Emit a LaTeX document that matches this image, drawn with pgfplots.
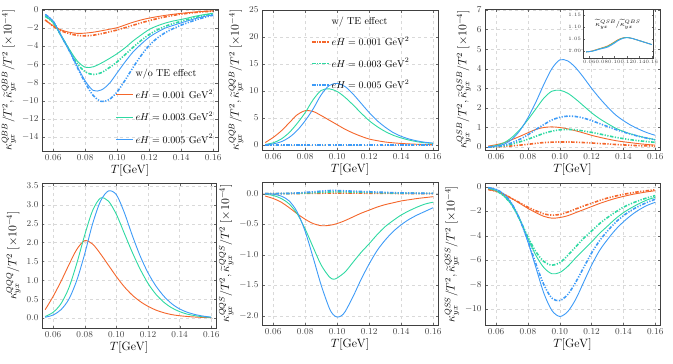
\documentclass[border=0pt]{standalone}
\usepackage{pgfplots}
\pgfplotsset{compat=1.18}
\definecolor{cO}{HTML}{F4662B}
\definecolor{cG}{HTML}{2ED9A2}
\definecolor{cB}{HTML}{3E9BF7}
\pgfplotsset{
 panel/.style={scale only axis, width=176pt, height=142pt,
  axis line style={draw=black!75, line width=0.6pt},
  grid=major, major grid style={dashed, black!15},
  xmin=0.053, xmax=0.163, xtick={0.06,0.08,0.10,0.12,0.14,0.16},
  tick label style={font=\fontsize{9.5}{10}\selectfont, text=black!75},
  label style={font=\fontsize{11.5}{12}\selectfont},
  xlabel={$T[\mathrm{GeV}]$},
  xlabel style={yshift=3pt},
  ylabel style={yshift=-1pt},
  tick align=inside, major tick length=2.5pt, tick style={black!60},
  xticklabel style={/pgf/number format/fixed, /pgf/number format/fixed zerofill, /pgf/number format/precision=2},
  legend cell align=left,
 },
 sol/.style={line width=0.9pt, smooth},
 dd/.style={line width=1.6pt, smooth, dash pattern=on 3.5pt off 1.5pt on 1.2pt off 1.5pt on 1.2pt off 1.5pt},
}
\begin{document}
\begin{tikzpicture}
\useasboundingbox (0,0) rectangle (673pt,-364pt);
% ---------------- Panel 1: QBB
\begin{axis}[panel, at={(42pt,-9pt)}, anchor=north west,
  ymin=-15.5, ymax=0.1, ytick={0,-2,-4,-6,-8,-10,-12,-14},
  ylabel={$\kappa^{QBB}_{yx}/T^2,\widetilde{\kappa}^{QBB}_{yx}/T^2\;[\times 10^{-4}]$},
  legend style={at={(0.40,0.61)}, anchor=north west, draw=none, fill=none, font=\fontsize{10}{11}\selectfont, row sep=8pt}]
\addplot[dd, cO, forget plot] coordinates {(0.055,-1.1)(0.06,-1.8)(0.065,-2.3)(0.07,-2.6)(0.075,-2.8)(0.08,-2.85)(0.085,-2.78)(0.09,-2.62)(0.095,-2.42)(0.10,-2.2)(0.105,-1.95)(0.11,-1.68)(0.115,-1.42)(0.12,-1.18)(0.125,-0.96)(0.13,-0.77)(0.135,-0.6)(0.14,-0.46)(0.145,-0.35)(0.15,-0.26)(0.155,-0.19)(0.16,-0.13)};
\addplot[dd, cG, forget plot] coordinates {(0.055,-0.7)(0.06,-1.4)(0.065,-2.85)(0.07,-4.4)(0.075,-5.9)(0.08,-6.8)(0.085,-7.1)(0.09,-6.9)(0.095,-6.35)(0.10,-5.7)(0.105,-4.9)(0.11,-4.1)(0.115,-3.35)(0.12,-2.7)(0.125,-2.2)(0.13,-1.8)(0.135,-1.5)(0.14,-1.25)(0.145,-1.0)(0.15,-0.78)(0.155,-0.58)(0.16,-0.42)};
\addplot[dd, cB, forget plot] coordinates {(0.055,-0.5)(0.06,-1.25)(0.065,-2.85)(0.07,-4.45)(0.075,-6.3)(0.08,-8.0)(0.085,-9.4)(0.09,-10.05)(0.095,-9.85)(0.10,-9.0)(0.105,-7.7)(0.11,-6.3)(0.115,-5.0)(0.12,-3.9)(0.125,-3.1)(0.13,-2.5)(0.135,-2.05)(0.14,-1.67)(0.145,-1.35)(0.15,-1.05)(0.155,-0.8)(0.16,-0.58)};
\addlegendimage{empty legend}
\addlegendentry{w/o TE effect}
\addplot[sol, cO] coordinates {(0.055,-1.1)(0.06,-1.75)(0.065,-2.2)(0.07,-2.45)(0.075,-2.58)(0.08,-2.55)(0.085,-2.45)(0.09,-2.3)(0.095,-2.13)(0.10,-1.95)(0.105,-1.65)(0.11,-1.35)(0.115,-1.1)(0.12,-0.9)(0.125,-0.74)(0.13,-0.6)(0.135,-0.48)(0.14,-0.38)(0.145,-0.29)(0.15,-0.21)(0.155,-0.15)(0.16,-0.1)};
\addlegendentry{$eH=0.001~\mathrm{GeV}^2$}
\addplot[sol, cG] coordinates {(0.055,-0.7)(0.06,-1.4)(0.065,-2.85)(0.07,-4.3)(0.075,-5.6)(0.08,-6.3)(0.085,-6.25)(0.09,-5.85)(0.095,-5.35)(0.10,-4.8)(0.105,-4.15)(0.11,-3.4)(0.115,-2.75)(0.12,-2.15)(0.125,-1.75)(0.13,-1.45)(0.135,-1.22)(0.14,-1.05)(0.145,-0.85)(0.15,-0.65)(0.155,-0.5)(0.16,-0.36)};
\addlegendentry{$eH=0.003~\mathrm{GeV}^2$}
\addplot[sol, cB] coordinates {(0.055,-0.5)(0.06,-1.25)(0.065,-2.85)(0.07,-4.45)(0.075,-6.2)(0.08,-7.8)(0.085,-8.85)(0.09,-8.8)(0.095,-8.1)(0.10,-6.9)(0.105,-5.7)(0.11,-4.6)(0.115,-3.75)(0.12,-3.0)(0.125,-2.45)(0.13,-2.0)(0.135,-1.7)(0.14,-1.42)(0.145,-1.15)(0.15,-0.9)(0.155,-0.7)(0.16,-0.53)};
\addlegendentry{$eH=0.005~\mathrm{GeV}^2$}
\end{axis}
% ---------------- Panel 2: QQB
\begin{axis}[panel, at={(262pt,-10pt)}, anchor=north west, height=140pt,
  ymin=-0.93, ymax=25, ytick={0,5,10,15,20,25},
  ylabel={$\kappa^{QQB}_{yx}/T^2,\widetilde{\kappa}^{QQB}_{yx}/T^2\;[\times 10^{-4}]$},
  legend style={at={(0.26,0.98)}, anchor=north west, draw=none, fill=none, font=\fontsize{10}{11}\selectfont, row sep=7pt}]
\addplot[sol, cO, forget plot] coordinates {(0.055,0.45)(0.06,1.4)(0.065,2.6)(0.07,4.1)(0.075,5.6)(0.08,6.35)(0.085,6.2)(0.09,5.45)(0.095,4.6)(0.10,3.75)(0.105,2.9)(0.11,2.2)(0.115,1.6)(0.12,1.1)(0.125,0.8)(0.13,0.55)(0.135,0.4)(0.14,0.28)(0.145,0.2)(0.15,0.13)(0.155,0.09)(0.16,0.06)};
\addplot[sol, cG, forget plot] coordinates {(0.055,0.1)(0.06,0.4)(0.065,1.1)(0.07,2.3)(0.075,4.0)(0.08,6.0)(0.085,8.4)(0.09,10.1)(0.095,10.4)(0.10,9.9)(0.105,8.8)(0.11,7.4)(0.115,5.9)(0.12,4.5)(0.125,3.4)(0.13,2.5)(0.135,1.8)(0.14,1.3)(0.145,0.9)(0.15,0.6)(0.155,0.4)(0.16,0.3)};
\addplot[sol, cB, forget plot] coordinates {(0.055,0.05)(0.06,0.2)(0.065,0.6)(0.07,1.4)(0.075,2.7)(0.08,4.5)(0.085,6.7)(0.09,9.3)(0.095,11.0)(0.10,11.4)(0.105,10.8)(0.11,9.4)(0.115,7.7)(0.12,6.0)(0.125,4.5)(0.13,3.3)(0.135,2.3)(0.14,1.6)(0.145,1.1)(0.15,0.75)(0.155,0.5)(0.16,0.35)};
\addlegendimage{empty legend}
\addlegendentry{w/ TE effect}
\addplot[dd, cO] coordinates {(0.055,0)(0.07,0)(0.08,0)(0.09,0)(0.10,0)(0.11,0)(0.12,0)(0.13,0)(0.14,0)(0.15,0)(0.16,0)};
\addlegendentry{$eH=0.001~\mathrm{GeV}^2$}
\addplot[dd, cG] coordinates {(0.055,0)(0.07,0)(0.08,0)(0.09,0)(0.10,0)(0.11,0)(0.12,0)(0.13,0)(0.14,0)(0.15,0)(0.16,0)};
\addlegendentry{$eH=0.003~\mathrm{GeV}^2$}
\addplot[dd, cB] coordinates {(0.055,0)(0.07,0)(0.08,0)(0.09,0)(0.10,0)(0.11,0)(0.12,0)(0.13,0)(0.14,0)(0.15,0)(0.16,0)};
\addlegendentry{$eH=0.005~\mathrm{GeV}^2$}
\end{axis}
% ---------------- Panel 3: QSB
\begin{axis}[panel, at={(485pt,-9pt)}, anchor=north west, width=175pt, height=141pt,
  ymin=-0.15, ymax=7.05, ytick={0,1,2,3,4,5,6,7},
  ylabel={$\kappa^{QSB}_{yx}/T^2,\widetilde{\kappa}^{QSB}_{yx}/T^2\;[\times 10^{-4}]$}]
\addplot[sol, cO] coordinates {(0.055,0.05)(0.06,0.12)(0.065,0.22)(0.07,0.38)(0.075,0.55)(0.08,0.73)(0.085,0.9)(0.09,1.0)(0.095,1.03)(0.10,1.0)(0.105,0.93)(0.11,0.83)(0.115,0.72)(0.12,0.6)(0.125,0.5)(0.13,0.41)(0.135,0.33)(0.14,0.27)(0.145,0.22)(0.15,0.17)(0.155,0.13)(0.16,0.1)};
\addplot[sol, cG] coordinates {(0.055,0.02)(0.06,0.08)(0.065,0.22)(0.07,0.5)(0.075,0.9)(0.08,1.4)(0.085,1.95)(0.09,2.5)(0.095,2.85)(0.10,2.9)(0.105,2.75)(0.11,2.45)(0.115,2.1)(0.12,1.75)(0.125,1.45)(0.13,1.2)(0.135,0.97)(0.14,0.8)(0.145,0.66)(0.15,0.55)(0.155,0.46)(0.16,0.38)};
\addplot[sol, cB] coordinates {(0.055,0.0)(0.06,0.05)(0.065,0.15)(0.07,0.4)(0.075,0.85)(0.08,1.5)(0.085,2.3)(0.09,3.2)(0.095,4.0)(0.10,4.45)(0.105,4.4)(0.11,4.05)(0.115,3.55)(0.12,3.0)(0.125,2.5)(0.13,2.05)(0.135,1.65)(0.14,1.35)(0.145,1.1)(0.15,0.9)(0.155,0.73)(0.16,0.6)};
\addplot[dd, cO] coordinates {(0.055,0.0)(0.06,0.01)(0.065,0.03)(0.07,0.06)(0.075,0.1)(0.08,0.14)(0.085,0.19)(0.09,0.23)(0.095,0.25)(0.10,0.26)(0.105,0.26)(0.11,0.25)(0.115,0.23)(0.12,0.21)(0.125,0.18)(0.13,0.16)(0.135,0.13)(0.14,0.11)(0.145,0.09)(0.15,0.07)(0.155,0.06)(0.16,0.05)};
\addplot[dd, cG] coordinates {(0.055,0.0)(0.06,0.02)(0.065,0.07)(0.07,0.15)(0.075,0.27)(0.08,0.4)(0.085,0.55)(0.09,0.7)(0.095,0.81)(0.10,0.88)(0.105,0.9)(0.11,0.88)(0.115,0.82)(0.12,0.75)(0.125,0.67)(0.13,0.58)(0.135,0.5)(0.14,0.43)(0.145,0.37)(0.15,0.32)(0.155,0.28)(0.16,0.24)};
\addplot[dd, cB] coordinates {(0.055,0.0)(0.06,0.03)(0.065,0.1)(0.07,0.22)(0.075,0.4)(0.08,0.63)(0.085,0.9)(0.09,1.15)(0.095,1.38)(0.10,1.52)(0.105,1.58)(0.11,1.56)(0.115,1.48)(0.12,1.35)(0.125,1.2)(0.13,1.05)(0.135,0.9)(0.14,0.77)(0.145,0.65)(0.15,0.54)(0.155,0.45)(0.16,0.37)};
\end{axis}
% inset
\begin{axis}[scale only axis, at={(583pt,-9pt)}, anchor=north west, width=70pt, height=49pt,
  axis line style={draw=black!75, line width=0.5pt}, axis background/.style={fill=white},
  xmin=0.05, xmax=0.162, ymin=0.973, ymax=1.173,
  xtick={0.06,0.08,0.10,0.12,0.14,0.16}, ytick={1.00,1.05,1.10,1.15},
  tick label style={font=\fontsize{4.5}{5}\selectfont, text=black!75},
  xticklabel style={/pgf/number format/fixed, /pgf/number format/fixed zerofill, /pgf/number format/precision=2, yshift=1.5pt},
  yticklabel style={/pgf/number format/fixed, /pgf/number format/fixed zerofill, /pgf/number format/precision=2, xshift=1.5pt},
  tick align=inside, major tick length=1.5pt, tick style={black!60}]
\addplot[line width=0.8pt, smooth, cO] coordinates {(0.055,0.998)(0.06,0.999)(0.065,1.002)(0.07,1.006)(0.075,1.01)(0.08,1.014)(0.085,1.018)(0.09,1.023)(0.095,1.03)(0.10,1.038)(0.105,1.046)(0.11,1.052)(0.115,1.056)(0.12,1.057)(0.125,1.055)(0.13,1.052)(0.135,1.048)(0.14,1.044)(0.145,1.04)(0.15,1.036)(0.155,1.032)(0.16,1.028)};
\addplot[line width=0.8pt, smooth, cG] coordinates {(0.055,0.998)(0.06,0.999)(0.065,1.001)(0.07,1.005)(0.075,1.009)(0.08,1.013)(0.085,1.016)(0.09,1.021)(0.095,1.028)(0.10,1.036)(0.105,1.044)(0.11,1.051)(0.115,1.055)(0.12,1.057)(0.125,1.055)(0.13,1.052)(0.135,1.048)(0.14,1.044)(0.145,1.04)(0.15,1.036)(0.155,1.032)(0.16,1.028)};
\addplot[line width=0.8pt, smooth, cB] coordinates {(0.055,0.998)(0.06,0.999)(0.065,1.001)(0.07,1.004)(0.075,1.008)(0.08,1.011)(0.085,1.014)(0.09,1.018)(0.095,1.025)(0.10,1.033)(0.105,1.042)(0.11,1.049)(0.115,1.054)(0.12,1.056)(0.125,1.055)(0.13,1.052)(0.135,1.048)(0.14,1.044)(0.145,1.04)(0.15,1.036)(0.155,1.032)(0.16,1.028)};
\node[font=\fontsize{7}{8}\selectfont] at (rel axis cs:0.5,0.68) {$\widetilde{\kappa}^{QSB}_{yx}/\widetilde{\kappa}^{QBS}_{yx}$};
\end{axis}
% ---------------- Panel 4: QQQ
\begin{axis}[panel, at={(42pt,-183pt)}, anchor=north west, width=174pt, height=145pt,
  ymin=-0.265, ymax=3.58, ytick={0,0.5,1,1.5,2,2.5,3,3.5},
  yticklabel style={/pgf/number format/fixed, /pgf/number format/fixed zerofill, /pgf/number format/precision=1},
  ylabel={$\kappa^{QQQ}_{yx}/T^2\;[\times 10^{-4}]$}]
\addplot[sol, cO] coordinates {(0.055,0.22)(0.06,0.57)(0.065,0.97)(0.07,1.41)(0.075,1.82)(0.08,2.05)(0.085,1.96)(0.09,1.7)(0.095,1.4)(0.10,1.1)(0.105,0.83)(0.11,0.61)(0.115,0.44)(0.12,0.31)(0.125,0.21)(0.13,0.14)(0.135,0.09)(0.14,0.06)(0.145,0.04)(0.15,0.025)(0.155,0.015)(0.16,0.01)};
\addplot[sol, cG] coordinates {(0.055,0.04)(0.06,0.15)(0.065,0.38)(0.07,0.8)(0.075,1.45)(0.08,2.2)(0.085,2.85)(0.09,3.18)(0.095,3.1)(0.10,2.75)(0.105,2.25)(0.11,1.75)(0.115,1.3)(0.12,0.92)(0.125,0.63)(0.13,0.42)(0.135,0.27)(0.14,0.17)(0.145,0.1)(0.15,0.06)(0.155,0.03)(0.16,0.02)};
\addplot[sol, cB] coordinates {(0.055,0.02)(0.06,0.08)(0.065,0.22)(0.07,0.5)(0.075,1.0)(0.08,1.7)(0.085,2.5)(0.09,3.1)(0.095,3.37)(0.10,3.27)(0.105,2.8)(0.11,2.2)(0.115,1.65)(0.12,1.2)(0.125,0.85)(0.13,0.58)(0.135,0.38)(0.14,0.24)(0.145,0.15)(0.15,0.09)(0.155,0.05)(0.16,0.02)};
\end{axis}
% ---------------- Panel 5: QQS
\begin{axis}[panel, at={(262pt,-182pt)}, anchor=north west, height=143pt,
  ymin=-2.15, ymax=0.19, ytick={0,-0.5,-1,-1.5,-2},
  yticklabel style={/pgf/number format/fixed, /pgf/number format/fixed zerofill, /pgf/number format/precision=1},
  ylabel={$\kappa^{QQS}_{yx}/T^2,\widetilde{\kappa}^{QQS}_{yx}/T^2\;[\times 10^{-4}]$}]
\addplot[sol, cO] coordinates {(0.055,-0.04)(0.06,-0.08)(0.065,-0.14)(0.07,-0.23)(0.075,-0.33)(0.08,-0.42)(0.085,-0.49)(0.09,-0.525)(0.095,-0.52)(0.10,-0.49)(0.105,-0.44)(0.11,-0.38)(0.115,-0.32)(0.12,-0.27)(0.125,-0.22)(0.13,-0.18)(0.135,-0.15)(0.14,-0.12)(0.145,-0.1)(0.15,-0.08)(0.155,-0.065)(0.16,-0.05)};
\addplot[sol, cG] coordinates {(0.055,-0.01)(0.06,-0.03)(0.065,-0.08)(0.07,-0.17)(0.075,-0.33)(0.08,-0.58)(0.085,-0.88)(0.09,-1.17)(0.095,-1.36)(0.0975,-1.4)(0.10,-1.38)(0.105,-1.28)(0.11,-1.12)(0.115,-0.96)(0.12,-0.82)(0.125,-0.67)(0.13,-0.54)(0.135,-0.44)(0.14,-0.35)(0.145,-0.28)(0.15,-0.22)(0.155,-0.17)(0.16,-0.14)};
\addplot[sol, cB] coordinates {(0.055,0.0)(0.06,-0.01)(0.065,-0.04)(0.07,-0.12)(0.075,-0.3)(0.08,-0.62)(0.085,-1.05)(0.09,-1.5)(0.095,-1.87)(0.0975,-1.98)(0.10,-2.02)(0.1025,-2.0)(0.105,-1.93)(0.11,-1.68)(0.115,-1.4)(0.12,-1.15)(0.125,-0.93)(0.13,-0.76)(0.135,-0.62)(0.14,-0.51)(0.145,-0.42)(0.15,-0.35)(0.155,-0.29)(0.16,-0.23)};
\addplot[dd, cO] coordinates {(0.055,0)(0.065,0)(0.075,0.002)(0.085,0.005)(0.095,0.008)(0.10,0.009)(0.11,0.008)(0.12,0.006)(0.13,0.004)(0.14,0.002)(0.15,0.001)(0.16,0.001)};
\addplot[dd, cG] coordinates {(0.055,0)(0.065,0.001)(0.075,0.005)(0.085,0.015)(0.095,0.027)(0.10,0.03)(0.11,0.026)(0.12,0.02)(0.13,0.013)(0.14,0.008)(0.15,0.005)(0.16,0.003)};
\addplot[dd, cB] coordinates {(0.055,0)(0.06,0)(0.065,0.002)(0.07,0.005)(0.075,0.01)(0.08,0.02)(0.085,0.03)(0.09,0.04)(0.095,0.05)(0.10,0.05)(0.105,0.045)(0.11,0.04)(0.115,0.035)(0.12,0.03)(0.125,0.025)(0.13,0.02)(0.135,0.015)(0.14,0.012)(0.145,0.01)(0.15,0.007)(0.155,0.005)(0.16,0.004)};
\end{axis}
% ---------------- Panel 6: QSS
\begin{axis}[panel, at={(485pt,-183pt)}, anchor=north west, width=175pt, height=142pt,
  ymin=-11.3, ymax=0.33, ytick={0,-2,-4,-6,-8,-10},
  ylabel={$\kappa^{QSS}_{yx}/T^2,\widetilde{\kappa}^{QSS}_{yx}/T^2\;[\times 10^{-4}]$}]
\addplot[sol, cO] coordinates {(0.055,-0.2)(0.06,-0.35)(0.065,-0.6)(0.07,-0.95)(0.075,-1.35)(0.08,-1.75)(0.085,-2.1)(0.09,-2.4)(0.095,-2.55)(0.10,-2.5)(0.105,-2.35)(0.11,-2.1)(0.115,-1.85)(0.12,-1.6)(0.125,-1.35)(0.13,-1.13)(0.135,-0.93)(0.14,-0.77)(0.145,-0.62)(0.15,-0.5)(0.155,-0.39)(0.16,-0.3)};
\addplot[sol, cG] coordinates {(0.055,-0.1)(0.06,-0.3)(0.065,-0.75)(0.07,-1.5)(0.075,-2.7)(0.08,-4.2)(0.085,-5.6)(0.09,-6.6)(0.095,-7.1)(0.10,-7.0)(0.105,-6.5)(0.11,-5.8)(0.115,-5.15)(0.12,-4.5)(0.125,-3.8)(0.13,-3.2)(0.135,-2.6)(0.14,-2.1)(0.145,-1.7)(0.15,-1.35)(0.155,-1.05)(0.16,-0.85)};
\addplot[sol, cB] coordinates {(0.055,-0.05)(0.06,-0.2)(0.065,-0.6)(0.07,-1.4)(0.075,-2.7)(0.08,-4.5)(0.085,-6.6)(0.09,-8.7)(0.095,-10.1)(0.10,-10.6)(0.105,-10.2)(0.11,-9.2)(0.115,-7.8)(0.12,-6.4)(0.125,-5.2)(0.13,-4.3)(0.135,-3.5)(0.14,-2.85)(0.145,-2.3)(0.15,-1.85)(0.155,-1.5)(0.16,-1.25)};
\addplot[dd, cO] coordinates {(0.055,-0.2)(0.06,-0.35)(0.065,-0.6)(0.07,-0.95)(0.075,-1.3)(0.08,-1.65)(0.085,-1.95)(0.09,-2.2)(0.095,-2.3)(0.10,-2.25)(0.105,-2.05)(0.11,-1.8)(0.115,-1.55)(0.12,-1.33)(0.125,-1.1)(0.13,-0.9)(0.135,-0.74)(0.14,-0.6)(0.145,-0.48)(0.15,-0.38)(0.155,-0.3)(0.16,-0.23)};
\addplot[dd, cG] coordinates {(0.055,-0.1)(0.06,-0.3)(0.065,-0.75)(0.07,-1.5)(0.075,-2.7)(0.08,-4.1)(0.085,-5.3)(0.09,-6.1)(0.095,-6.4)(0.10,-6.2)(0.105,-5.6)(0.11,-4.9)(0.115,-4.2)(0.12,-3.6)(0.125,-3.0)(0.13,-2.5)(0.135,-2.05)(0.14,-1.65)(0.145,-1.35)(0.15,-1.1)(0.155,-0.88)(0.16,-0.7)};
\addplot[dd, cB] coordinates {(0.055,-0.05)(0.06,-0.2)(0.065,-0.6)(0.07,-1.4)(0.075,-2.7)(0.08,-4.4)(0.085,-6.3)(0.09,-8.0)(0.095,-9.1)(0.10,-9.3)(0.105,-8.8)(0.11,-7.8)(0.115,-6.6)(0.12,-5.4)(0.125,-4.4)(0.13,-3.6)(0.135,-2.9)(0.14,-2.35)(0.145,-1.9)(0.15,-1.55)(0.155,-1.25)(0.16,-1.0)};
\end{axis}
\end{tikzpicture}
\end{document}
